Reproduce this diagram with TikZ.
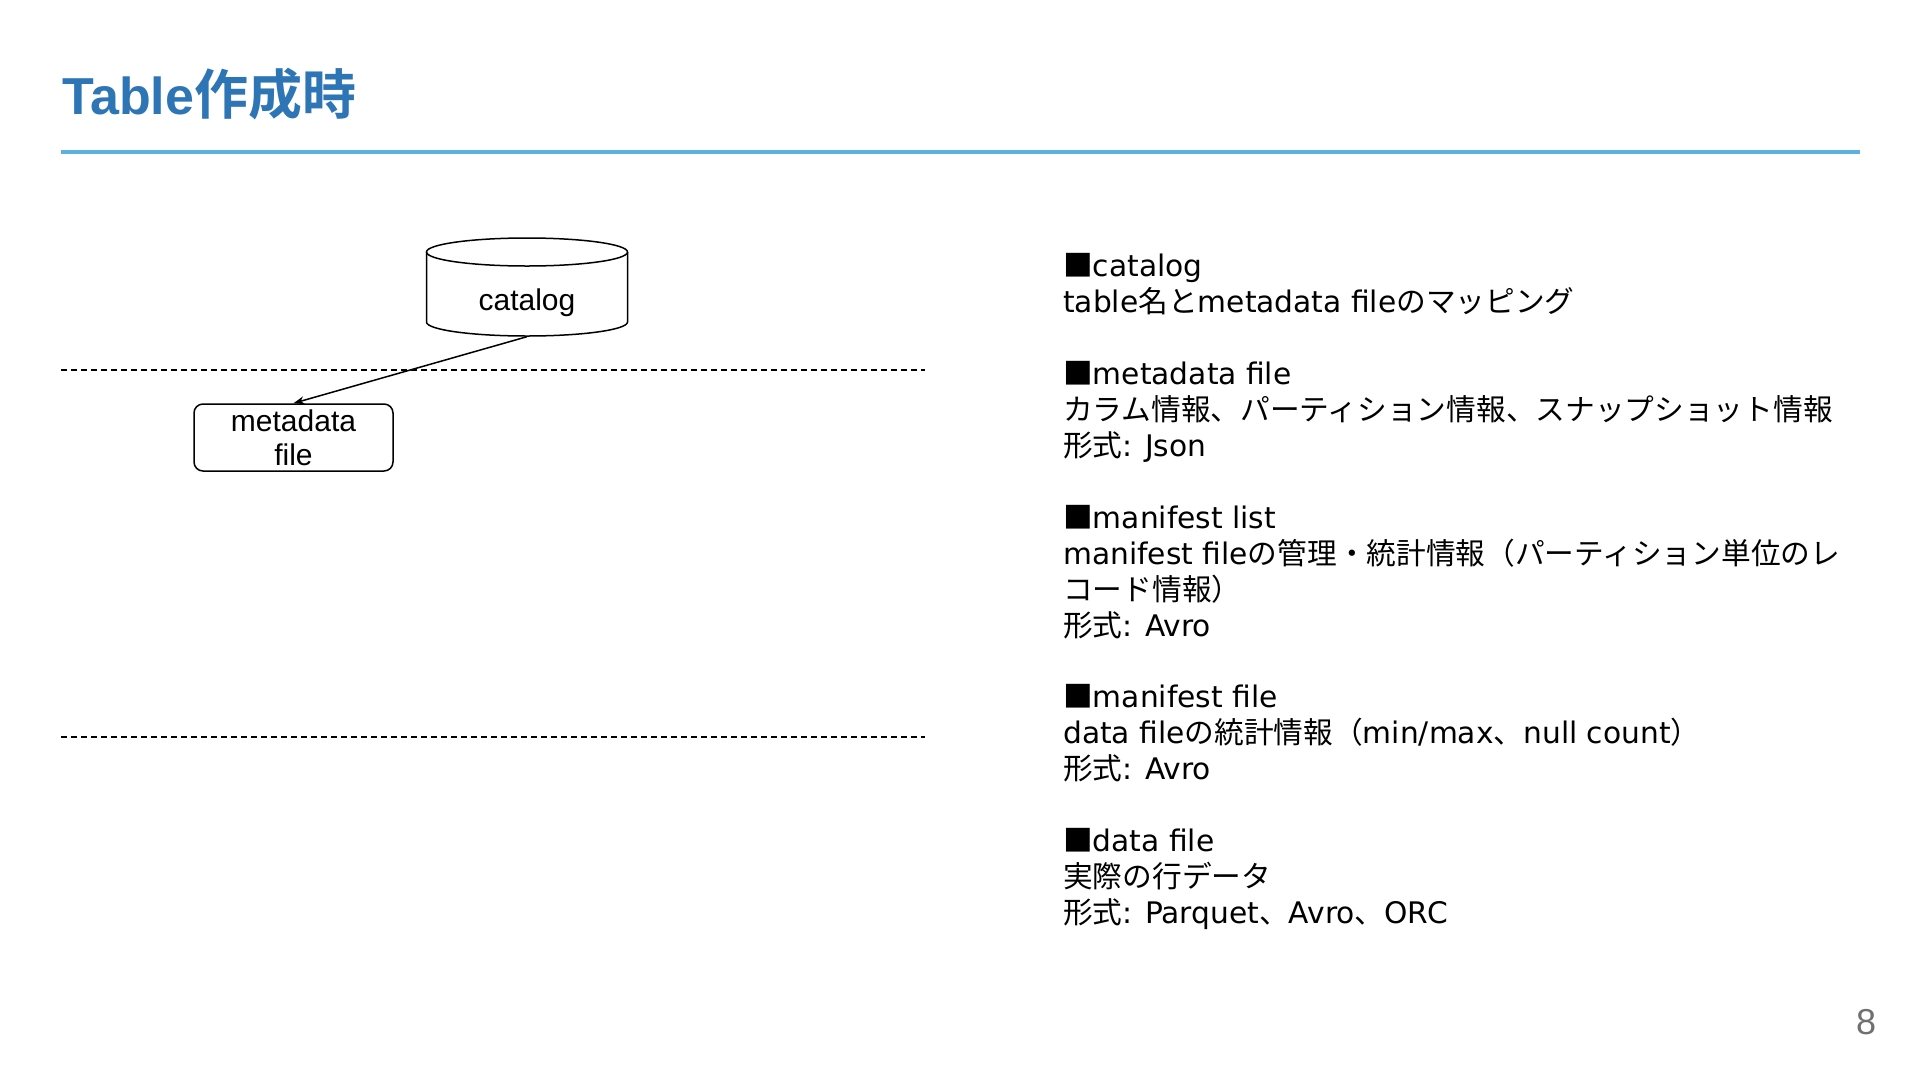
\documentclass[tikz,border=0pt]{standalone}
\usepackage{fontspec}
\usetikzlibrary{arrows.meta}
\newfontfamily\latf{DejaVu Sans}
\newfontfamily\jaf{Noto Sans CJK JP}
\newfontfamily\jabf{Noto Sans CJK JP}[UprightFont=* Bold]
\newfontfamily\arialf{Liberation Sans}
\newfontfamily\arialbf{Liberation Sans}[UprightFont=* Bold]
\newcommand\J[1]{{\jaf #1}}
\definecolor{titleblue}{RGB}{46,117,182}
\definecolor{ruleblue}{RGB}{93,176,226}
\definecolor{pagegray}{RGB}{112,112,112}
\tikzset{
  desc/.style={anchor=base west, inner sep=0pt, font=\latf\fontsize{29.7}{36}\selectfont},
  diag/.style={font=\arialf\fontsize{30}{34}\selectfont, inner sep=0pt},
  sepline/.style={line width=1.3pt, dash pattern=on 6pt off 4pt},
  conn/.style={line width=1.5pt, -{Stealth[length=11pt,width=8pt]}}
}
\begin{document}
\begin{tikzpicture}[x=1pt,y=1pt]
\path[use as bounding box, fill=white] (0,0) rectangle (1920,-1080);
% title
\node[anchor=base west, inner sep=0pt, text=titleblue] (title) at (62,-114)
  {\arialbf\fontsize{52}{60}\selectfont Table{\jabf\fontsize{54}{60}\selectfont 作成時}};
\draw[ruleblue, line width=4pt] (61,-152) -- (1860,-152);
% separators
\draw[sepline] (61,-370) -- (925,-370);
\draw[sepline] (61,-737) -- (925,-737);
% catalog cylinder
\draw[line width=1.5pt] (426.5,-252) -- (426.5,-322)
  arc[start angle=180, end angle=360, x radius=100.5, y radius=14] -- (627.5,-252);
\draw[line width=1.5pt] (527,-252) ellipse [x radius=100.5, y radius=14];
\node[diag, minimum width=201pt, minimum height=67pt] (catalog) at (527,-303) {catalog};
% metadata file
\node[diag, draw, line width=1.5pt, rounded corners=9pt, minimum width=199pt, minimum height=67pt, align=center] (meta) at (293.5,-437.5) {metadata\\file};
\draw[conn] (catalog.south) -- (meta.north);
% descriptions
\node[desc] (d0) at (1063,-276) {\J{■}catalog};
\node[desc] (d1) at (1063,-312) {table\J{名と}metadata file\J{のマッピング}};
\node[desc] (d3) at (1063,-384) {\J{■}metadata file};
\node[desc] (d4) at (1063,-420) {\J{カラム情報、パーティション情報、スナップショット情報}};
\node[desc] (d5) at (1063,-456) {\J{形式}: Json};
\node[desc] (d7) at (1063,-528) {\J{■}manifest list};
\node[desc] (d8) at (1063,-564) {manifest file\J{の管理・統計情報（パーティション単位のレ}};
\node[desc] (d9) at (1063,-600) {\J{コード情報）}};
\node[desc] (d10) at (1063,-636) {\J{形式}: Avro};
\node[desc] (d12) at (1063,-707) {\J{■}manifest file};
\node[desc] (d13) at (1063,-743) {data file\J{の統計情報（}min/max\J{、}null count\J{）}};
\node[desc] (d14) at (1063,-779) {\J{形式}: Avro};
\node[desc] (d16) at (1063,-851) {\J{■}data file};
\node[desc] (d17) at (1063,-887) {\J{実際の行データ}};
\node[desc] (d18) at (1063,-923) {\J{形式}: Parquet\J{、}Avro\J{、}ORC};
% page number
\node[text=pagegray, inner sep=0pt, font=\arialf\fontsize{36}{40}\selectfont] (page) at (1866,-1022) {8};
\end{tikzpicture}
\end{document}
